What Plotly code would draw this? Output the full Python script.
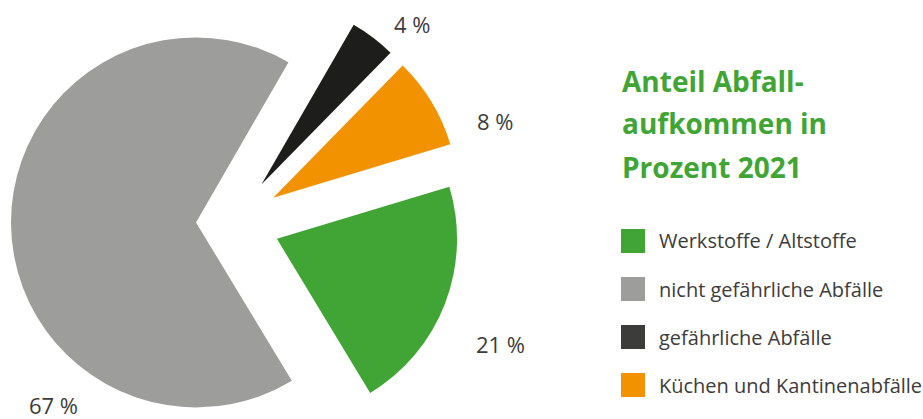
import math
import plotly.graph_objects as go

# ---------------- data ----------------
categories = ["Werkstoffe / Altstoffe", "nicht gefährliche Abfälle",
              "gefährliche Abfälle", "Küchen und Kantinenabfälle"]
values = [21, 67, 4, 8]
slice_colors = ["#40a535", "#9d9d9c", "#1d1d1b", "#f39200"]
legend_colors = ["#40a535", "#9d9d9c", "#3c3c3b", "#f39200"]
pct_labels = [f"{v} %" for v in values]
title_lines = ["Anteil Abfall-", "aufkommen in", "Prozent 2021"]

# ---------------- layout constants ----------------
W, H = 923, 419
R = 185                 # pie radius in px
ROT = 73.2              # start angle of first slice (deg, clockwise from top)
CX, CY = 233, 222       # common pie centre before pulling (px)
pull_px = [47, 37, 47, 47]
label_pos = [(500, 344), (53, 405), (412, 24), (495, 121)]   # px
TEXT = "#3c3c3b"
GREEN = "#40a535"
FONT = "Open Sans"

fig = go.Figure()

total = sum(values)
cum = 0.0
for i, v in enumerate(values):
    a0 = ROT + 360.0 * cum / total
    mid = math.radians(a0 + 180.0 * v / total)
    cum += v
    cx = CX + pull_px[i] * math.sin(mid)
    cy = CY - pull_px[i] * math.cos(mid)
    xm, ym = cx / W, 1 - cy / H
    hx, hy = R / W, R / H
    hy = min(hy, 1 - ym, ym)
    hx = min(hx, 1 - xm, xm)
    cols = [slice_colors[j] if j == i else "rgba(0,0,0,0)" for j in range(len(values))]
    fig.add_trace(go.Pie(
        values=values, labels=categories, sort=False, direction="clockwise",
        rotation=ROT, textinfo="none", showlegend=False,
        marker=dict(colors=cols, line=dict(width=0)),
        domain=dict(x=[xm - hx, xm + hx], y=[ym - hy, ym + hy]),
        hoverinfo="label+percent",
    ))

annotations = []
for i, t in enumerate(pct_labels):
    x, y = label_pos[i]
    annotations.append(dict(text=t, x=x / W, y=1 - y / H, xref="paper", yref="paper",
                            xanchor="center", yanchor="middle", showarrow=False,
                            font=dict(family=FONT, size=22, color=TEXT)))

# title (three lines)
title_y = [81, 123, 167]
for line, y in zip(title_lines, title_y):
    annotations.append(dict(text=f"<b>{line}</b>", x=620 / W, y=1 - y / H, xref="paper", yref="paper",
                            xanchor="left", yanchor="middle", showarrow=False,
                            font=dict(family=FONT, size=28, color=GREEN)))

# legend
shapes = []
row_y = [241, 289, 337, 385]
for i, name in enumerate(categories):
    y = row_y[i]
    shapes.append(dict(type="rect", xref="paper", yref="paper",
                       x0=621 / W, x1=645 / W, y0=1 - (y + 12) / H, y1=1 - (y - 12) / H,
                       fillcolor=legend_colors[i], line=dict(width=0)))
    annotations.append(dict(text=name, x=657 / W, y=1 - y / H, xref="paper", yref="paper",
                            xanchor="left", yanchor="middle", showarrow=False,
                            font=dict(family=FONT, size=20, color=TEXT)))

fig.update_layout(width=W, height=H, margin=dict(l=0, r=0, t=0, b=0),
                  paper_bgcolor="white", plot_bgcolor="white",
                  annotations=annotations, shapes=shapes, showlegend=False)

fig.write_html("out.html", config={"displayModeBar": False},
               post_script="document.body.style.margin='0';document.body.style.overflow='hidden';")
